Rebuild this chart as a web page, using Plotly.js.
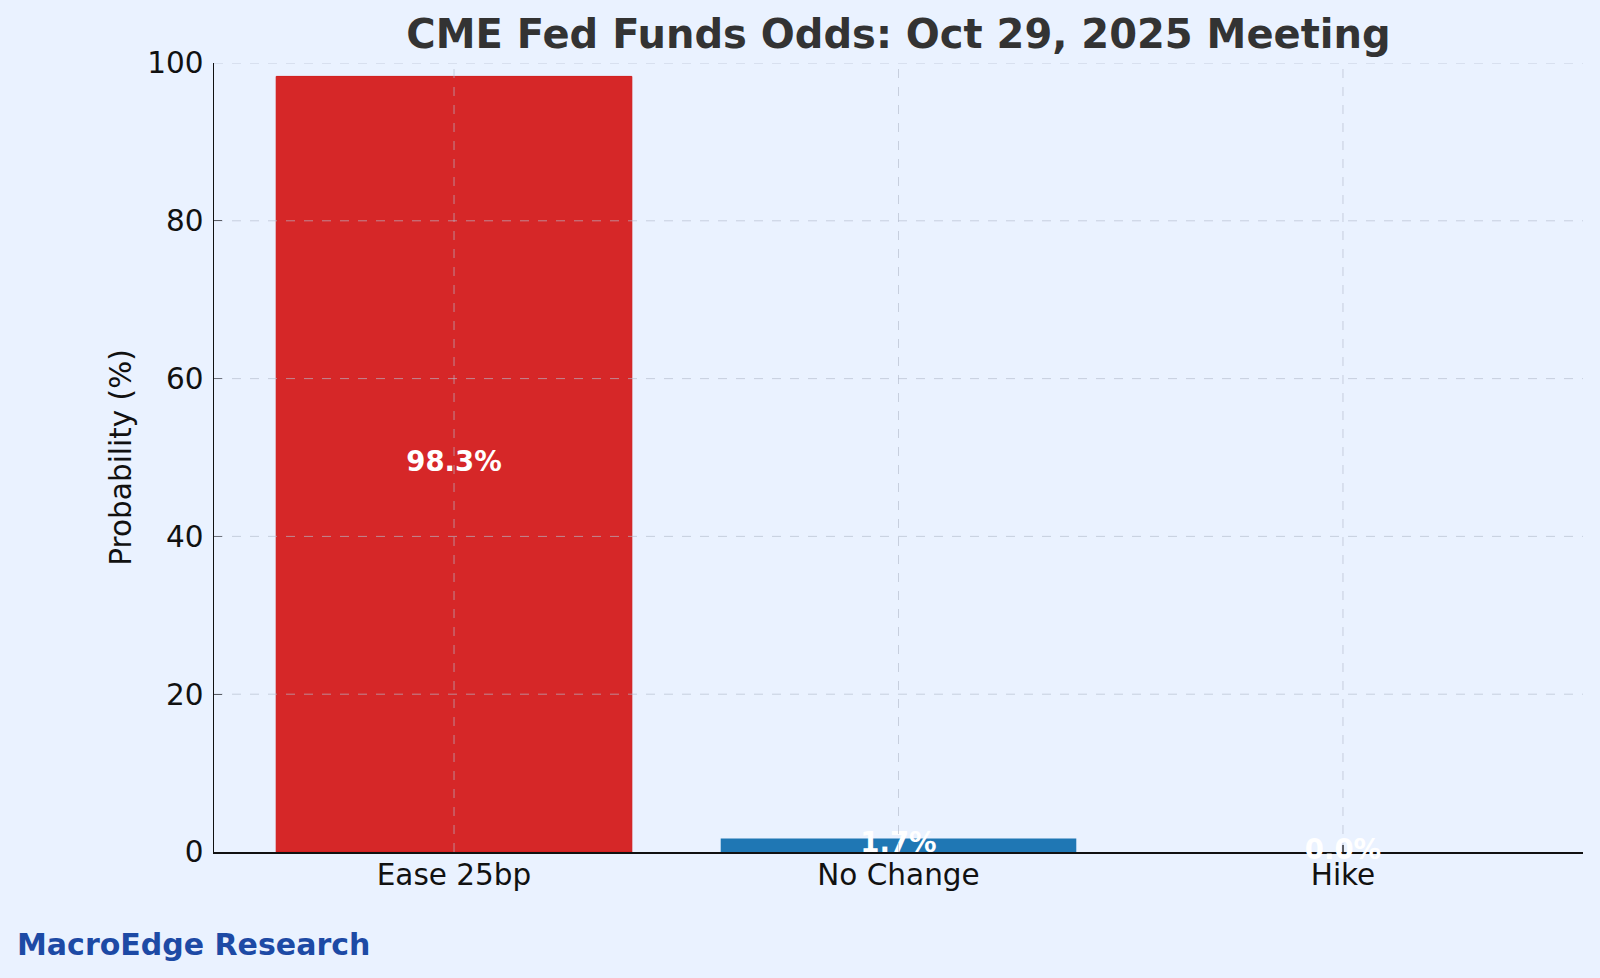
<!DOCTYPE html>
<html>
<head>
<meta charset="utf-8">
<script src="https://cdn.plot.ly/plotly-3.0.1.min.js"></script>
<style>
  html, body { margin: 0; padding: 0; background: #eaf2ff; }
  #chart { width: 1600px; height: 978px; }
</style>
</head>
<body>
<div id="chart"></div>
<script>
// ---- data ----
const categories = ["Ease 25bp", "No Change", "Hike"];
const probabilities = [98.3, 1.7, 0.0];
const barColors = ["#d62728", "#1f77b4", "#2ca02c"];
const yTicks = [0, 20, 40, 60, 80, 100];
const titleText = "CME Fed Funds Odds: Oct 29, 2025 Meeting";
const yTitle = "Probability (%)";
const credit = "MacroEdge Research";

const FONT = "DejaVu Sans, Verdana, sans-serif";
const BG = "#eaf2ff";
const GRID = "rgba(180,188,204,0.65)";

const labels = probabilities.map(v => v.toFixed(1) + "%");
const labelY = probabilities.map(v => v / 2);

const barTrace = {
  type: "bar",
  x: categories,
  y: probabilities,
  width: 0.8,
  marker: {
    color: barColors,
    line: { color: ["#d01818", "#1f77b4", "#2ca02c"], width: probabilities.map(v => v > 50 ? 1 : 0) }
  },
  hoverinfo: "x+y",
  showlegend: false
};

const textTrace = {
  type: "scatter",
  mode: "text",
  x: categories,
  y: labelY,
  text: labels,
  textposition: "middle center",
  textfont: { family: FONT, size: 27.5, color: "#ffffff", weight: "bold" },
  cliponaxis: false,
  hoverinfo: "skip",
  showlegend: false
};

// dashed grid drawn above the bars (as in the reference)
const shapes = [];
yTicks.filter(t => t > 0).forEach(t => {
  shapes.push({
    type: "line", layer: "above", xref: "paper", yref: "y",
    x0: 0, x1: 1, y0: t, y1: t,
    line: { color: GRID, width: 1, dash: "dash" }
  });
});
categories.forEach(c => {
  shapes.push({
    type: "line", layer: "above", xref: "x", yref: "paper",
    x0: c, x1: c, y0: 0, y1: 1,
    line: { color: GRID, width: 1, dash: "dash" }
  });
});

const layout = {
  width: 1600,
  height: 978,
  paper_bgcolor: BG,
  plot_bgcolor: BG,
  margin: { l: 213.5, r: 17, t: 63.3, b: 126.3, pad: 0 },
  font: { family: FONT, color: "#111111" },
  title: {
    text: "<b>" + titleText + "</b>",
    font: { family: FONT, size: 40, color: "#333333" },
    x: 0.5, xref: "paper",
    y: 1 - 34 / 978, yref: "container", yanchor: "middle"
  },
  xaxis: {
    type: "category",
    range: [-0.54, 2.54],
    showgrid: false,
    zeroline: false,
    showline: true,
    linecolor: "#111111",
    linewidth: 1.5,
    ticks: "inside",
    ticklen: 7,
    tickwidth: 1.2,
    tickcolor: "#333333",
    tickfont: { family: FONT, size: 29.5, color: "#111111" },
    ticklabelstandoff: -4,
    layer: "below traces",
    fixedrange: true
  },
  yaxis: {
    range: [0, 100],
    tickvals: yTicks,
    ticktext: yTicks.map(String),
    showgrid: false,
    zeroline: false,
    showline: true,
    linecolor: "#111111",
    linewidth: 1.5,
    ticks: "inside",
    ticklen: 8,
    tickwidth: 1.3,
    tickcolor: "#111111",
    tickfont: { family: FONT, size: 29.5, color: "#111111" },
    ticklabelstandoff: 3,
    title: {
      text: yTitle,
      font: { family: FONT, size: 29.5, color: "#111111" },
      standoff: 7
    },
    fixedrange: true
  },
  shapes: shapes,
  annotations: [{
    text: "<b>" + credit + "</b>",
    xref: "paper", yref: "paper",
    x: (14.5 - 213.5) / 1369.5, y: (851.7 - 944) / 788.4,
    xanchor: "left", yanchor: "middle",
    showarrow: false,
    font: { family: FONT, size: 30, color: "#1d4aa5" }
  }],
  showlegend: false,
  bargap: 0.2
};

Plotly.newPlot("chart", [barTrace, textTrace], layout, { displayModeBar: false, staticPlot: true });
</script>
</body>
</html>
